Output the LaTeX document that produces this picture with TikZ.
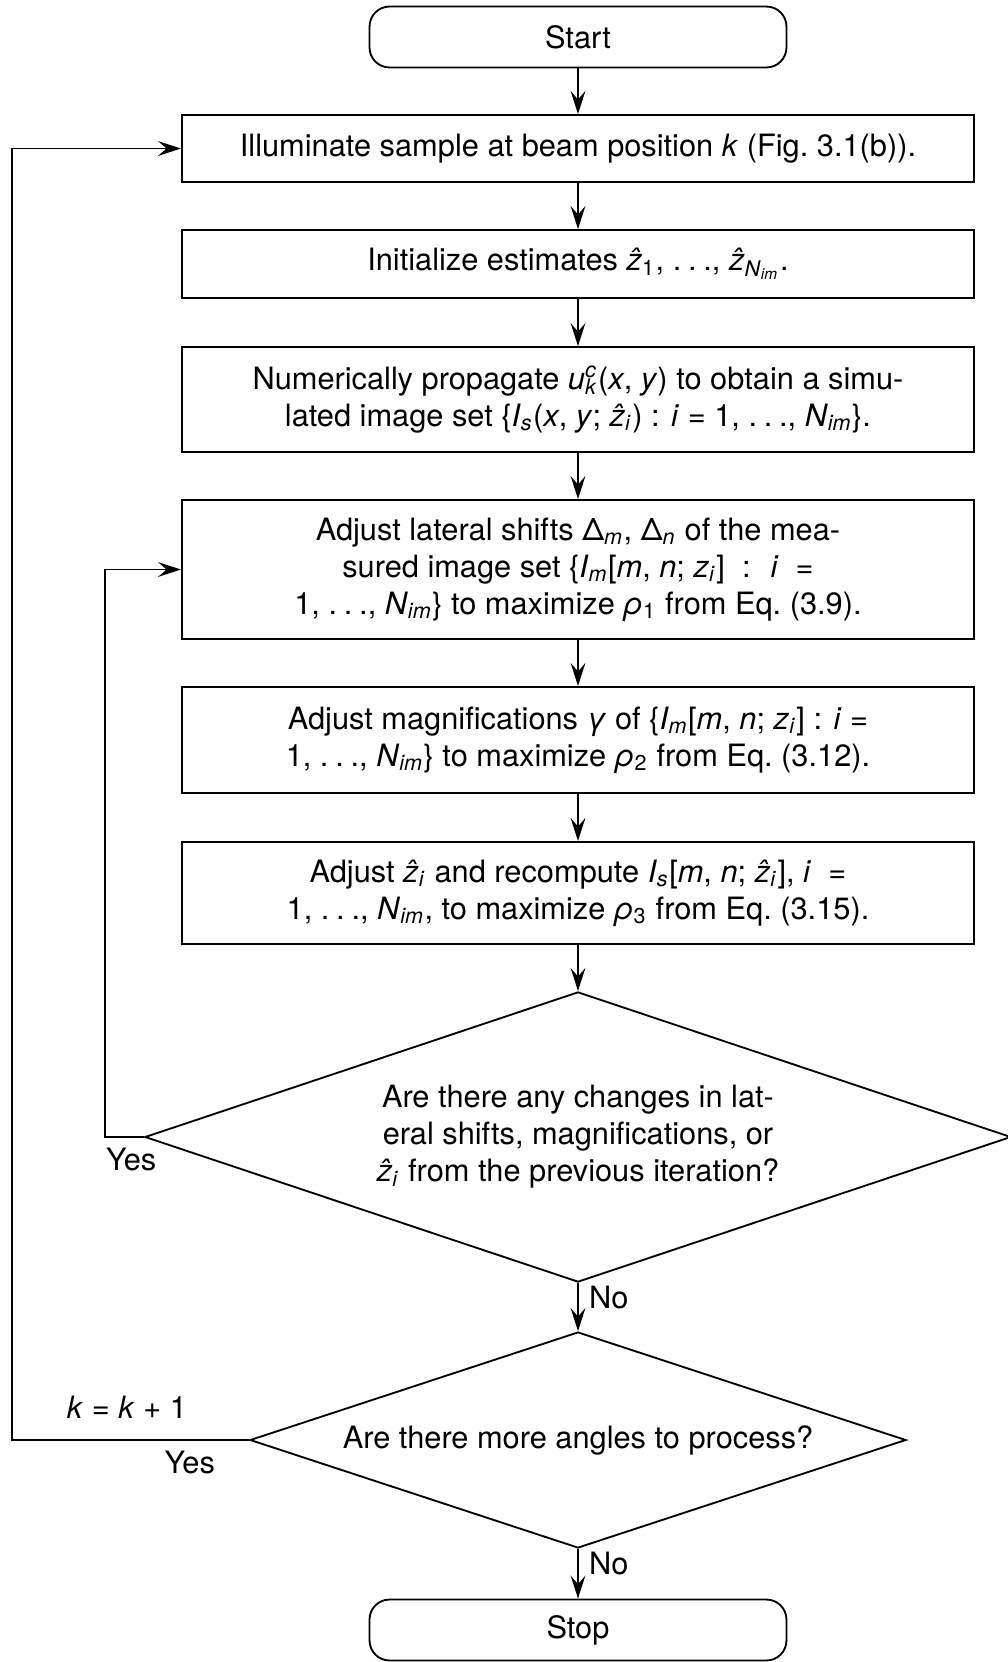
\documentclass[tikz,border=0pt]{standalone}
\usepackage{fontspec}
\setmainfont{TeX Gyre Heros}
\usetikzlibrary{shapes.geometric,arrows.meta}
\newcommand{\mi}[1]{\textit{#1}}
\newcommand{\zh}{\ooalign{\mi{z}\cr\hidewidth\mi{\char"02C6}\hidewidth\cr}}
\newcommand{\Nim}{\mi{N}\textsubscript{\mi{im}}}
\newcommand{\sbsp}[2]{\makebox[0pt][l]{\textsuperscript{\mi{#1}}}\textsubscript{\mi{#2}}}
\newcommand{\dts}{.\kern.22em.\kern.22em.}
\begin{document}
\begin{tikzpicture}[x=0.325pt, y=-0.325pt, line width=0.6pt,
  >={Stealth[length=7.5pt,width=4.8pt,inset=2.8pt]},
  font=\fontsize{10}{12}\selectfont,
  terminal/.style={draw, rounded corners=6.5pt, minimum width=135.5pt, minimum height=19.8pt, inner sep=0pt},
  process/.style={draw, align=center, minimum width=257.4pt, inner sep=0pt},
  decision/.style={draw, diamond, aspect=3, align=center, inner sep=0pt}]
\useasboundingbox (0,0) rectangle (1008,1662);
\node[terminal] (start) at (578,37) {Start};
\node[process, minimum height=21.8pt] (illum) at (578,148.5) {Illuminate sample at beam position \mi{k} (Fig.~3.1(b)).};
\node[process, minimum height=22.1pt] (init) at (578,264) {Initialize estimates \zh\textsubscript{1}, \dts, \zh\textsubscript{\Nim}.};
\node[process, minimum height=34.1pt] (prop) at (578,399.5) {Numerically propagate \mi{u}\sbsp{c}{k}(\mi{x}, \mi{y}) to obtain a simu-\\lated image set \{\mi{I}\textsubscript{\mi{s}}(\mi{x}, \mi{y}; \zh\textsubscript{\mi{i}}) : \mi{i} = 1, \dts, \Nim\}.};
\node[process, minimum height=45.2pt] (lateral) at (578,569.5) {Adjust lateral shifts Δ\textsubscript{\mi{m}}, Δ\textsubscript{\mi{n}} of the mea-\\sured image set \{\mi{I}\textsubscript{\mi{m}}[\mi{m}, \mi{n}; \mi{z}\textsubscript{\mi{i}}] \ : \ \mi{i} \ = \\1, \dts, \Nim\} to maximize \mi{ρ}\textsubscript{1} from Eq.~(3.9).};
\node[process, minimum height=34.5pt] (magn) at (578,740) {Adjust magnifications \mi{γ} of \{\mi{I}\textsubscript{\mi{m}}[\mi{m}, \mi{n}; \mi{z}\textsubscript{\mi{i}}] : \mi{i} = \\1, \dts, \Nim\} to maximize \mi{ρ}\textsubscript{2} from Eq.~(3.12).};
\node[process, minimum height=33.2pt] (zest) at (578,893) {Adjust \zh\textsubscript{\mi{i}} and recompute \mi{I}\textsubscript{\mi{s}}[\mi{m}, \mi{n}; \zh\textsubscript{\mi{i}}], \mi{i} \ = \\1, \dts, \Nim, to maximize \mi{ρ}\textsubscript{3} from Eq.~(3.15).};
\node[decision, minimum width=281.5pt, minimum height=94.3pt] (chg) at (578,1137) {Are there any changes in lat-\\eral shifts, magnifications, or\\\zh\textsubscript{\mi{i}} from the previous iteration?};
\node[decision, minimum width=213.2pt, minimum height=70.2pt] (more) at (578,1440) {Are there more angles to process?};
\node[terminal] (stop) at (578,1630) {Stop};
\draw[->] (start) -- (illum);
\draw[->] (illum) -- (init);
\draw[->] (init) -- (prop);
\draw[->] (prop) -- (lateral);
\draw[->] (lateral) -- (magn);
\draw[->] (magn) -- (zest);
\draw[->] (zest) -- (chg.north);
\draw[->] (chg.south) -- node[right, pos=0.3]{No} (more.north);
\draw[->] (more.south) -- node[right, pos=0.3]{No} (stop);
\draw[->] (chg.west) -- node[below, pos=0.33]{Yes} ++(-39,0) |- (lateral.west);
\draw[->] (more.west) -- node[above=3.5pt, pos=0.515]{\mi{k} = \mi{k} + 1} node[below, pos=0.25]{Yes} ++(-237,0) |- (illum.west);
\end{tikzpicture}
\end{document}
